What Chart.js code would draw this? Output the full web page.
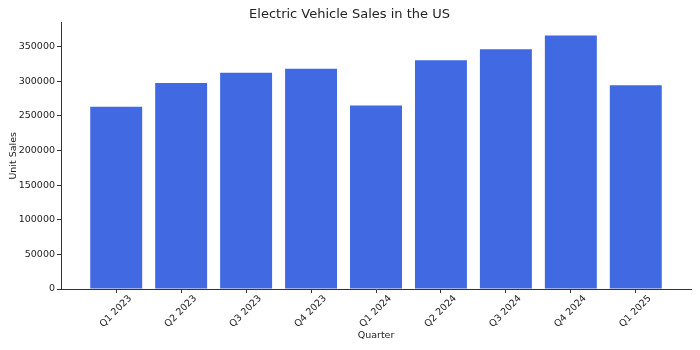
<!DOCTYPE html>
<html>
<head>
<meta charset="utf-8">
<script src="https://cdn.jsdelivr.net/npm/chart.js@4"></script>
<style>
  html, body { margin: 0; padding: 0; background: #fff; }
  #wrap { width: 700px; height: 350px; }
</style>
</head>
<body>
<div id="wrap"><canvas id="chart"></canvas></div>
<script>
// Quarterly EV sales
const quarters = ['Q1 2023', 'Q2 2023', 'Q3 2023', 'Q4 2023', 'Q1 2024', 'Q2 2024', 'Q3 2024', 'Q4 2024', 'Q1 2025'];
const unitSales = [263000, 297500, 312000, 318000, 265000, 330000, 346000, 366000, 294000];
const yTicks = [0, 50000, 100000, 150000, 200000, 250000, 300000, 350000];

const axisColor = '#333';
const font = { family: 'DejaVu Sans', size: 9.5 };

const ctx = document.getElementById('chart').getContext('2d');
new Chart(ctx, {
  type: 'bar',
  data: {
    datasets: [{
      label: 'Unit Sales',
      data: unitSales.map((v, i) => ({ x: i, y: v })),
      backgroundColor: '#4169E1',
      borderColor: '#4169E1',
      borderWidth: 0,
      categoryPercentage: 1,
      barPercentage: 0.8,
    }]
  },
  options: {
    responsive: true,
    maintainAspectRatio: false,
    animation: false,
    layout: { padding: { left: 8, right: 9, top: 0, bottom: 9 } },
    plugins: {
      legend: { display: false },
      tooltip: { enabled: false },
      title: {
        display: true,
        text: 'Electric Vehicle Sales in the US',
        color: '#222',
        font: { family: 'DejaVu Sans', size: 13, weight: 'normal' },
        padding: { top: 7, bottom: 0 },
      },
    },
    scales: {
      x: {
        type: 'linear',
        min: -0.85,
        max: 8.85,
        offset: false,
        afterBuildTicks: (scale) => {
          scale.ticks = quarters.map((q, i) => ({ value: i }));
        },
        afterFit: (scale) => { scale.height = 52; },
        ticks: {
          color: '#222',
          font: font,
          minRotation: 45,
          maxRotation: 45,
          labelOffset: 14,
          padding: 0,
          callback: (v) => quarters[v],
        },
        grid: { offset: false, drawOnChartArea: false, drawTicks: true, tickLength: 4, color: axisColor },
        border: { display: true, color: axisColor, width: 1 },
        title: { display: true, text: 'Quarter', color: '#222', font: font, padding: { top: 0, bottom: 0 } },
      },
      y: {
        min: 0,
        max: 384500,
        afterBuildTicks: (scale) => {
          scale.ticks = yTicks.map(v => ({ value: v }));
        },
        afterFit: (scale) => { scale.width = 53; },
        ticks: { color: '#222', font: font, padding: 2, callback: (v) => String(v) },
        grid: { drawOnChartArea: false, drawTicks: true, tickLength: 4, color: axisColor },
        border: { display: true, color: axisColor, width: 1 },
        title: { display: true, text: 'Unit Sales', color: '#222', font: font, padding: { top: 0, bottom: 0 } },
      },
    },
  },
});
</script>
</body>
</html>
